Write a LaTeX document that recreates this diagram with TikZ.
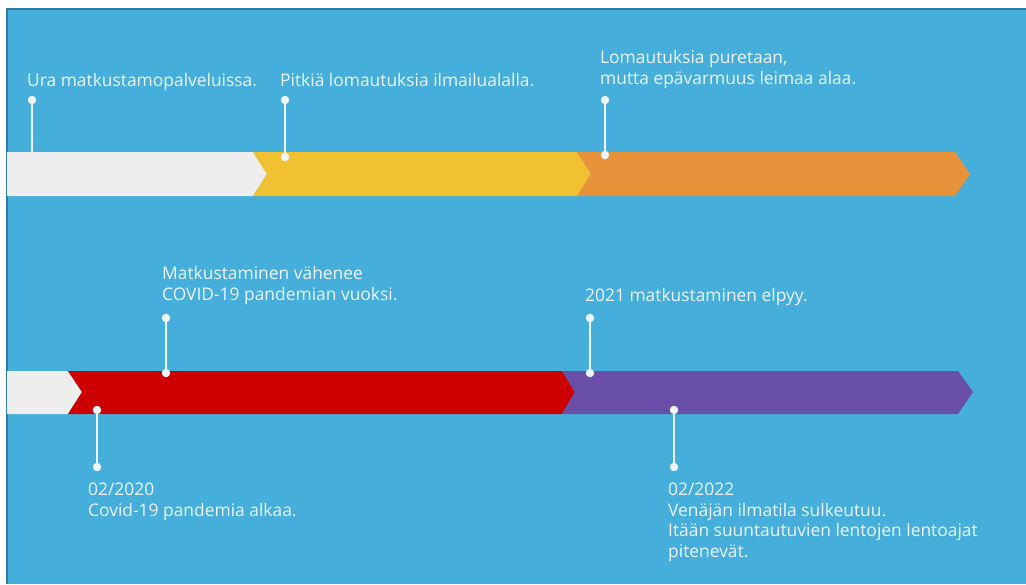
\documentclass[tikz,border=0pt]{standalone}
\usepackage{fontspec}
\setmainfont{Open Sans}
\definecolor{skyblue}{HTML}{45AEDB}
\definecolor{edgeblue}{HTML}{2F7CA3}
\definecolor{bandwhite}{HTML}{EEEEEE}
\definecolor{bandyellow}{HTML}{F0C131}
\definecolor{bandorange}{HTML}{E8923A}
\definecolor{bandred}{HTML}{CC0000}
\definecolor{bandpurple}{HTML}{6A4FA8}
\definecolor{textwhite}{HTML}{EEF6FA}
\begin{document}
\begin{tikzpicture}[x=1pt, y=-1pt,
    dot/.style={circle, fill=textwhite, inner sep=0pt, minimum size=8.5pt},
    stem/.style={draw=textwhite, line width=1.8pt},
    lbl/.style={anchor=north west, inner sep=0pt, align=left, text=textwhite,
                font=\fontsize{17.4}{20.5}\selectfont}]
	\useasboundingbox (0,0) rectangle (1026,584);
	
	% background
	\fill[skyblue] (7,9) rectangle (1026,584);
	\draw[edgeblue, line width=1.5pt] (7,584) -- (7,9) -- (1026,9);
	
	% upper band
	\fill[bandwhite] (7,152) -- (253,152) -- (267,174) -- (253,196) -- (7,196) -- cycle;
	\fill[bandyellow] (253,152) -- (577,152) -- (591,174) -- (577,196) -- (253,196) -- (267,174) -- cycle;
	\fill[bandorange] (577,152) -- (955,152) -- (970,174) -- (955,196) -- (577,196) -- (591,174) -- cycle;
	
	% lower band
	\fill[bandwhite] (7,371) -- (68,371) -- (82,392) -- (68,414) -- (7,414) -- cycle;
	\fill[bandred] (68,371) -- (562,371) -- (575,392) -- (562,414) -- (68,414) -- (82,392) -- cycle;
	\fill[bandpurple] (562,371) -- (958,371) -- (973,392) -- (958,414) -- (562,414) -- (575,392) -- cycle;
	
	% upper markers
	\node[dot] (ura) at (32,100) {};
	\coordinate (uraend) at (32,152);
	\draw[stem] (ura) -- (uraend);
	\node[lbl] (uratext) at (27,73) {Ura matkustamopalveluissa.};
	
	\node[dot] (lomat) at (285,100) {};
	\node[dot] (lomatend) at (285,157) {};
	\draw[stem] (lomat) -- (lomatend);
	\node[lbl] (lomattext) at (280,73) {Pitkiä lomautuksia ilmailualalla.};
	
	\node[dot] (puretaan) at (605,100) {};
	\node[dot] (puretaanend) at (605,155) {};
	\draw[stem] (puretaan) -- (puretaanend);
	\node[lbl] (puretaantext) at (600,50.5) {Lomautuksia puretaan,\\mutta epävarmuus leimaa alaa.};
	
	% lower markers, above the band
	\node[dot] (vahenee) at (166,318) {};
	\node[dot] (vaheneeend) at (166,373) {};
	\draw[stem] (vahenee) -- (vaheneeend);
	\node[lbl] (vaheneetext) at (162,266.5) {Matkustaminen vähenee\\COVID-19 pandemian vuoksi.};
	
	\node[dot] (elpyy) at (590,318) {};
	\node[dot] (elpyyend) at (590,373) {};
	\draw[stem] (elpyy) -- (elpyyend);
	\node[lbl] (elpyytext) at (585,288) {2021 matkustaminen elpyy.};
	
	% lower markers, below the band
	\node[dot] (covid) at (97,410) {};
	\node[dot] (covidend) at (97,467) {};
	\draw[stem] (covid) -- (covidend);
	\node[lbl] (covidtext) at (88,483) {02/2020\\Covid-19 pandemia alkaa.};
	
	\node[dot] (venaja) at (674,410) {};
	\node[dot] (venajaend) at (674,467) {};
	\draw[stem] (venaja) -- (venajaend);
	\node[lbl] (venajatext) at (668,483) {02/2022\\Venäjän ilmatila sulkeutuu.\\Itään suuntautuvien lentojen lentoajat\\pitenevät.};
\end{tikzpicture}
\end{document}
